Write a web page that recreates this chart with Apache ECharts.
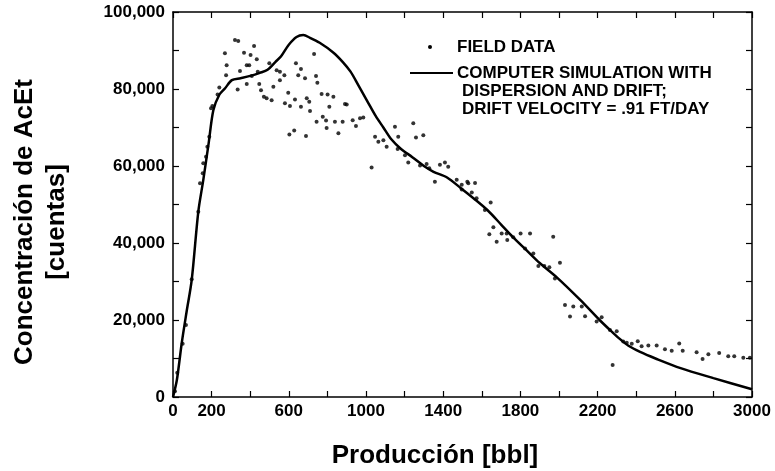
<!DOCTYPE html>
<html>
<head>
<meta charset="utf-8">
<script src="https://cdn.jsdelivr.net/npm/echarts@6/dist/echarts.min.js"></script>
<style>
  html, body { margin: 0; padding: 0; background: #fff; }
  #mydiv { width: 775px; height: 471px; }
</style>
</head>
<body>
<div id="mydiv"></div>
<script>
// datos de campo (puntos)
var fieldX = [10, 22, 50, 67, 97, 131, 140, 154, 157, 171, 178, 188, 197, 204, 231, 240, 275, 278, 269, 321,
  338, 335, 347, 368, 382, 382, 395, 402, 420, 408, 434, 439, 447, 456, 471, 485, 511, 499, 520, 537,
  554, 554, 577, 580, 597, 606, 603, 628, 632, 637, 649, 663, 663, 684, 689, 693, 706, 710, 731, 741,
  748, 744, 770, 776, 796, 801, 793, 810, 831, 839, 857, 879, 891, 900, 931, 948, 969, 986, 1029, 1047,
  1064, 1090, 1107, 1150, 1164, 1167, 1202, 1219, 1245, 1259, 1280, 1297, 1314, 1328, 1357, 1383, 1409, 1426, 1470, 1496,
  1525, 1565, 1496, 1530, 1548, 1573, 1616, 1646, 1660, 1639, 1677, 1703, 1729, 1732, 1763, 1801, 1850, 1970, 1824, 1867,
  1893, 1924, 1950, 2005, 1979, 2031, 2057, 2074, 2118, 2135, 2195, 2221, 2264, 2299, 2278, 2333, 2351, 2377, 2408, 2428,
  2463, 2506, 2549, 2584, 2623, 2641, 2713, 2744, 2774, 2830, 2877, 2908, 2955, 2989];
var fieldY = [1500, 6300, 13800, 18700, 30600, 48100, 55500, 58100, 60700, 62400, 65000, 67600, 75000, 75600, 78600, 80400, 83600, 86200, 89300, 92700,
  92500, 79900, 84700, 89400, 86200, 81300, 86200, 88800, 91200, 83400, 87700, 84500, 81300, 79700, 78000, 77600, 77100, 86700, 80600, 84900,
  84500, 82300, 83600, 76300, 79000, 75600, 68200, 69200, 77300, 86700, 83600, 85200, 75400, 82800, 67800, 77600, 76700, 74300, 89100, 83400,
  81600, 71500, 78700, 72800, 69900, 78600, 71800, 75400, 78000, 71500, 68500, 71500, 76100, 76000, 71900, 70400, 72400, 72600, 59600, 67600,
  66300, 66700, 65000, 70200, 64400, 67600, 62800, 60900, 71100, 67400, 60100, 68000, 60500, 59400, 55900, 60300, 60900, 59800, 56400, 55100,
  55900, 55600, 53900, 55500, 53100, 51600, 48600, 50500, 44100, 42300, 40300, 42500, 42500, 40800, 41500, 42500, 42500, 41600, 38600, 37300,
  34000, 34000, 33700, 34900, 30800, 23900, 20900, 23500, 23500, 21000, 19600, 20700, 17400, 17100, 8300, 14400, 14100, 13800, 14500, 13200,
  13400, 13400, 12400, 12000, 13900, 12000, 11600, 9900, 11100, 11400, 10600, 10600, 10200, 10200];

// simulación por computadora (curva)
var simX = [0, 20, 45, 70, 97, 131, 157, 185, 209, 240, 270, 305, 350, 400, 450, 490, 530, 560, 600, 640,
  675, 710, 760, 830, 880, 920, 960, 1005, 1050, 1090, 1130, 1180, 1240, 1300, 1350, 1420, 1490, 1560, 1630, 1700,
  1760, 1830, 1900, 1990, 2110, 2210, 2260, 2310, 2360, 2420, 2500, 2630, 2800, 3000];
var simY = [0, 4400, 13900, 22000, 30400, 48100, 56400, 66000, 74500, 78500, 80200, 82300, 82800, 83400, 84200, 85000, 87000, 88500, 91500, 93500,
  94000, 93300, 92000, 89500, 87000, 84500, 81000, 77000, 73000, 70000, 67000, 64500, 62300, 60000, 58500, 57000, 54300, 51500, 48500, 44800,
  41600, 38200, 34800, 31000, 25200, 20000, 17600, 15300, 13300, 11700, 10000, 7500, 4900, 2000];

var xMin = 0, xMax = 3000, xStep = 200;
var yMin = 0, yMax = 100000, yStep = 10000;

var fieldData = fieldX.map(function (x, i) { return [x, fieldY[i]]; });
var simData = simX.map(function (x, i) { return [x, simY[i]]; });

var fam = '"Liberation Sans", Arial, sans-serif';
var black = '#000';

var echart = echarts.init(document.getElementById('mydiv'));

// ejes del marco (ticks hacia adentro)
function frameAxis(extra) {
    var base = {
        axisLine: { show: true, onZero: false, lineStyle: { color: black, width: 1.5 } },
        axisTick: { show: true, inside: true, length: 6, lineStyle: { color: black, width: 1.2 } },
        splitLine: { show: false },
        axisLabel: { show: false }
    };
    for (var k in extra) base[k] = extra[k];
    return base;
}

var option = {
    animation: false,
    backgroundColor: '#fff',
    grid: { left: 173, right: 23, top: 12, bottom: 74 },
    xAxis: [
        frameAxis({
            type: 'value', min: xMin, max: xMax, interval: xStep, position: 'bottom',
            axisLabel: {
                show: true, color: black, fontWeight: 'bold', fontSize: 17,
                fontFamily: fam, margin: 6, showMaxLabel: true,
                formatter: function (v) {
                    if (v === 0 || v === 3000 || (v - 200) % 400 === 0) return String(v);
                    return '';
                }
            }
        }),
        frameAxis({ type: 'value', min: xMin, max: xMax, interval: xStep, position: 'top' })
    ],
    yAxis: [
        frameAxis({
            type: 'value', min: yMin, max: yMax, interval: yStep, position: 'left',
            axisLabel: {
                show: true, color: black, fontWeight: 'bold', fontSize: 17,
                fontFamily: fam, margin: 8,
                formatter: function (v) {
                    return v % 20000 === 0 ? v.toLocaleString('en-US') : '';
                }
            }
        }),
        frameAxis({ type: 'value', min: yMin, max: yMax, interval: yStep, position: 'right' })
    ],
    series: [
        {
            name: 'FIELD DATA',
            type: 'scatter',
            data: fieldData,
            symbol: 'circle',
            symbolSize: 4,
            itemStyle: { color: black },
            z: 3
        },
        {
            name: 'COMPUTER SIMULATION',
            type: 'line',
            data: simData,
            smooth: 0.3,
            showSymbol: false,
            lineStyle: { color: black, width: 2.5 },
            z: 4
        }
    ],
    graphic: [
        // título eje y
        {
            type: 'text', x: 41, y: 222, rotation: Math.PI / 2,
            style: {
                text: 'Concentración de AcEt\n[cuentas]',
                font: 'bold 26px ' + fam,
                fill: black, align: 'center', verticalAlign: 'middle', lineHeight: 32
            }
        },
        // título eje x
        {
            type: 'text', x: 435, y: 456,
            style: {
                text: 'Producción [bbl]',
                font: 'bold 26px ' + fam,
                fill: black, align: 'center', verticalAlign: 'middle'
            }
        },
        // leyenda
        { type: 'circle', shape: { cx: 430, cy: 47, r: 2 }, style: { fill: black } },
        {
            type: 'text', x: 457, y: 47,
            style: { text: 'FIELD DATA', font: 'bold 17px ' + fam, fill: black, verticalAlign: 'middle' }
        },
        { type: 'line', shape: { x1: 410, y1: 73, x2: 453, y2: 73 }, style: { stroke: black, lineWidth: 2 } },
        {
            type: 'text', x: 457, y: 73,
            style: { text: 'COMPUTER SIMULATION WITH', font: 'bold 17px ' + fam, fill: black, verticalAlign: 'middle' }
        },
        {
            type: 'text', x: 462, y: 91,
            style: { text: 'DISPERSION AND DRIFT;', font: 'bold 17px ' + fam, fill: black, verticalAlign: 'middle' }
        },
        {
            type: 'text', x: 462, y: 109,
            style: { text: 'DRIFT VELOCITY = .91 FT/DAY', font: 'bold 17px ' + fam, fill: black, verticalAlign: 'middle' }
        }
    ]
};

echart.setOption(option);
</script>
</body>
</html>
